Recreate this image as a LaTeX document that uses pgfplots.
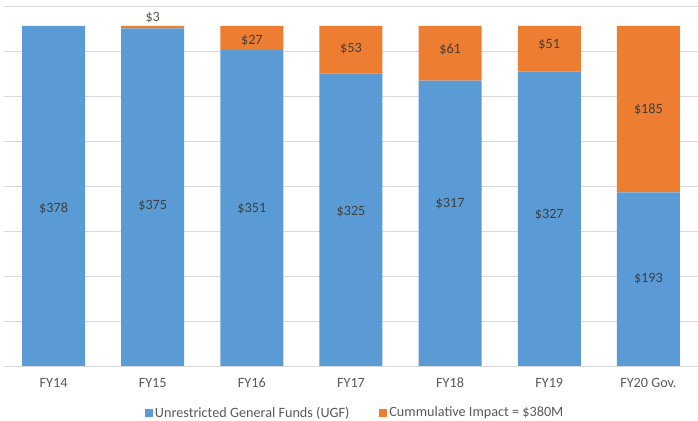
\documentclass[border=0pt]{standalone}
\usepackage{pgfplots}
\usepackage{pgfplotstable}
\pgfplotsset{compat=1.18}
\usepackage{fontspec}
\setmainfont{Carlito}
\definecolor{ublue}{HTML}{5B9BD5}
\definecolor{uorange}{HTML}{ED7D31}
\definecolor{lbltext}{HTML}{404040}
\definecolor{ticktext}{HTML}{595959}
\definecolor{gridgray}{HTML}{D9D9D9}

\pgfplotstableread{
x blue orange
0 378 0
1 375 3
2 351 27
3 325 53
4 317 61
5 327 51
6 193 185
}\bardata

\pgfplotstableread{
x y v
0 175.2 378
1 177.8 375
2 175.2 351
3 171.4 325
4 180.8 317
5 167.8 327
6 97.4 193
2 361.4 27
3 353.0 53
4 351.9 61
5 357.4 51
6 285.2 185
}\labeldata

\pgfplotstableread{
x y v
1 387.4 3
}\smalllabel

\begin{document}
\begin{tikzpicture}
\useasboundingbox (0,0) rectangle (698bp,421bp);
\pgfplotsset{
  base/.style={
    at={(4bp,55bp)}, anchor=south west,
    scale only axis, width=694bp, height=360bp,
    xmin=-0.5, xmax=6.5, ymin=0, ymax=400,
  }
}
\begin{axis}[
  base,
  ybar stacked, bar width=63bp,
  axis line style={draw=none},
  ytick={0,50,...,400}, yticklabels={},
  ymajorgrids, grid style={color=gridgray, line width=0.8bp},
  xtick=data,
  xticklabels={FY14,FY15,FY16,FY17,FY18,FY19,FY20 Gov.},
  tick style={draw=none},
  xticklabel style={anchor=center, yshift=-17bp, text=ticktext, font=\fontsize{14.2bp}{16bp}\selectfont},
  legend columns=2,
  legend style={at={(0.506,-0.13)}, anchor=center, draw=none, fill=none,
    font=\fontsize{14.2bp}{16bp}\selectfont, text=ticktext,
    /tikz/every even column/.append style={column sep=28bp}},
  legend image code/.code={\fill[#1] (0bp,-4bp) rectangle (8bp,4bp);},
]
\addplot[fill=ublue, draw=none] table[x=x, y=blue] {\bardata};
\addlegendentry{Unrestricted General Funds (UGF)}
\addplot[fill=uorange, draw=none] table[x=x, y=orange] {\bardata};
\addlegendentry{Cummulative Impact = \$380M}
\end{axis}
\begin{axis}[
  base, hide axis, clip=false,
]
\addplot[only marks, mark=none, point meta=explicit symbolic,
  nodes near coords={\$\pgfplotspointmeta},
  every node near coord/.style={anchor=center, text=lbltext, font=\fontsize{14.2bp}{16bp}\selectfont}]
  table[x=x, y=y, meta=v] {\labeldata};
\addplot[only marks, mark=none, point meta=explicit symbolic,
  nodes near coords={\$\pgfplotspointmeta},
  every node near coord/.style={anchor=center, text=ticktext, font=\fontsize{14.2bp}{16bp}\selectfont}]
  table[x=x, y=y, meta=v] {\smalllabel};
\end{axis}
\end{tikzpicture}
\end{document}
